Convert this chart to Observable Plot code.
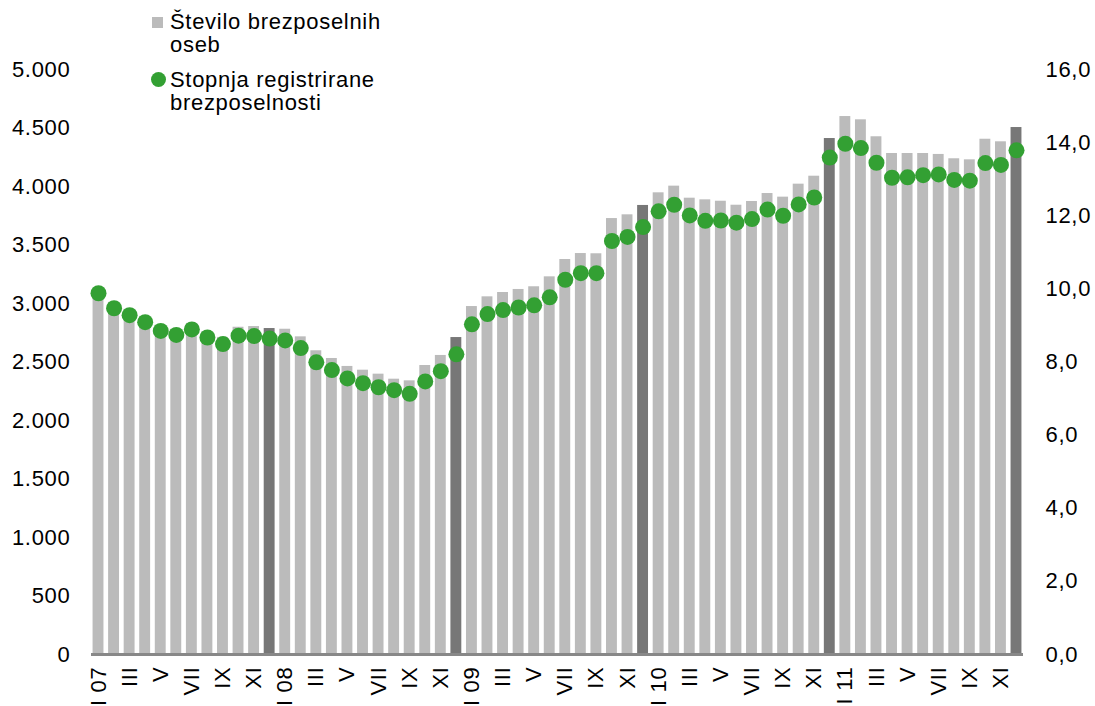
<!DOCTYPE html>
<html><head><meta charset="utf-8">
<script src="https://cdn.jsdelivr.net/npm/d3@7"></script>
<script src="https://cdn.jsdelivr.net/npm/@observablehq/plot@0.6"></script>
<style>
body{margin:0;background:#fff;}
#wrap{position:relative;width:1095px;height:706px;font-family:"Liberation Sans",Arial,sans-serif;}
.leg{position:absolute;font-size:22px;letter-spacing:0.7px;line-height:23px;color:#000;white-space:nowrap;}
.sw{position:absolute;}
</style></head><body><div id="wrap"></div>
<script>
// Categories
const startYear = 2007;
const monthLabels = ["I","II","III","IV","V","VI","VII","VIII","IX","X","XI","XII"];
// Število brezposelnih oseb (Jan 2007 – Dec 2011)
const counts2007 = [3100, 3010, 2950, 2890, 2815, 2780, 2830, 2760, 2710, 2797, 2803, 2786];
const counts2008 = [2780, 2715, 2596, 2530, 2462, 2430, 2396, 2353, 2339, 2470, 2556, 2709];
const counts2009 = [2974, 3057, 3094, 3120, 3143, 3228, 3376, 3427, 3425, 3726, 3758, 3838];
const counts2010 = [3946, 4003, 3900, 3886, 3874, 3840, 3872, 3940, 3909, 4020, 4088, 4410];
const counts2011 = [4598, 4570, 4425, 4282, 4282, 4282, 4274, 4237, 4228, 4404, 4382, 4504];
// Stopnja registrirane brezposelnosti (%)
const rates2007 = [9.88, 9.47, 9.28, 9.09, 8.85, 8.74, 8.89, 8.67, 8.49, 8.72, 8.71, 8.64];
const rates2008 = [8.59, 8.38, 7.99, 7.78, 7.55, 7.42, 7.31, 7.23, 7.13, 7.47, 7.75, 8.21];
const rates2009 = [9.03, 9.31, 9.42, 9.49, 9.55, 9.77, 10.25, 10.43, 10.43, 11.31, 11.42, 11.69];
const rates2010 = [12.12, 12.30, 12.01, 11.86, 11.87, 11.81, 11.91, 12.17, 12.00, 12.31, 12.50, 13.59];
const rates2011 = [13.97, 13.85, 13.45, 13.04, 13.05, 13.11, 13.13, 12.98, 12.96, 13.44, 13.39, 13.79];
// Axis ticks
const leftTicks = [0,500,1000,1500,2000,2500,3000,3500,4000,4500,5000];
const rightTicks = [0,2,4,6,8,10,12,14,16];

const counts = [].concat(counts2007, counts2008, counts2009, counts2010, counts2011);
const rates = [].concat(rates2007, rates2008, rates2009, rates2010, rates2011);
const data = counts.map((c, i) => ({
  key: i, year: startYear + Math.floor(i / 12), month: i % 12 + 1, count: c, rate: rates[i]
}));
const countMax = 5000, rateMax = 16, k = countMax / rateMax;
const loc = d3.formatLocale({decimal: ",", thousands: ".", grouping: [3], currency: ["", ""]});
const fInt = loc.format(",.0f"), fDec = loc.format(".1f");
const green = "#33a033";

const chart = Plot.plot({
  width: 1095, height: 706,
  marginLeft: 91, marginRight: 72, marginTop: 69, marginBottom: 52,
  style: "font-family:'Liberation Sans',Arial,sans-serif;font-size:22px;letter-spacing:0.7px;color:#000;background:transparent;",
  x: {type: "band", domain: data.map(d => d.key), paddingInner: 0.3, paddingOuter: 0.1, axis: null, label: null},
  y: {domain: [0, countMax], axis: null, label: null},
  marks: [
    Plot.barY(data, {x: "key", y: "count", fill: d => d.month === 12 ? "#777777" : "#bbbbbb"}),
    Plot.ruleY([0], {stroke: "#888888", strokeWidth: 3}),
    Plot.dot(data, {x: "key", y: d => d.rate * k, r: 8, fill: green, stroke: "none"}),
    Plot.axisY({anchor: "left", ticks: leftTicks, tickSize: 0, tickPadding: 21, tickFormat: fInt, label: null}),
    Plot.axisY({anchor: "right", ticks: rightTicks.map(v => v * k), tickSize: 0, tickPadding: 22, tickFormat: d => fDec(d / k), label: null}),
    Plot.axisX({
      ticks: data.filter(d => d.month % 2 === 1).map(d => d.key),
      tickSize: 0, tickPadding: 12, tickRotate: -90, label: null,
      tickFormat: i => { const d = data[i]; return d.month === 1 ? "I " + String(d.year).slice(2) : monthLabels[d.month - 1]; }
    })
  ]
});
const wrap = document.getElementById("wrap");
wrap.appendChild(chart);

const legendItems = [
  {lines: ["Število brezposelnih", "oseb"], top: 10, sw: {left: 152, top: 17, w: 11, h: 11, bg: "#bbbbbb", r: "0"}},
  {lines: ["Stopnja registrirane", "brezposelnosti"], top: 68, sw: {left: 151, top: 72, w: 15, h: 15, bg: green, r: "50%"}}
];
for (const it of legendItems) {
  const s = document.createElement("div");
  s.className = "sw";
  Object.assign(s.style, {left: it.sw.left + "px", top: it.sw.top + "px", width: it.sw.w + "px", height: it.sw.h + "px", background: it.sw.bg, borderRadius: it.sw.r});
  wrap.appendChild(s);
  const t = document.createElement("div");
  t.className = "leg";
  t.style.left = "170px"; t.style.top = it.top + "px";
  t.innerHTML = it.lines.join("<br>");
  wrap.appendChild(t);
}
</script>
</body></html>
